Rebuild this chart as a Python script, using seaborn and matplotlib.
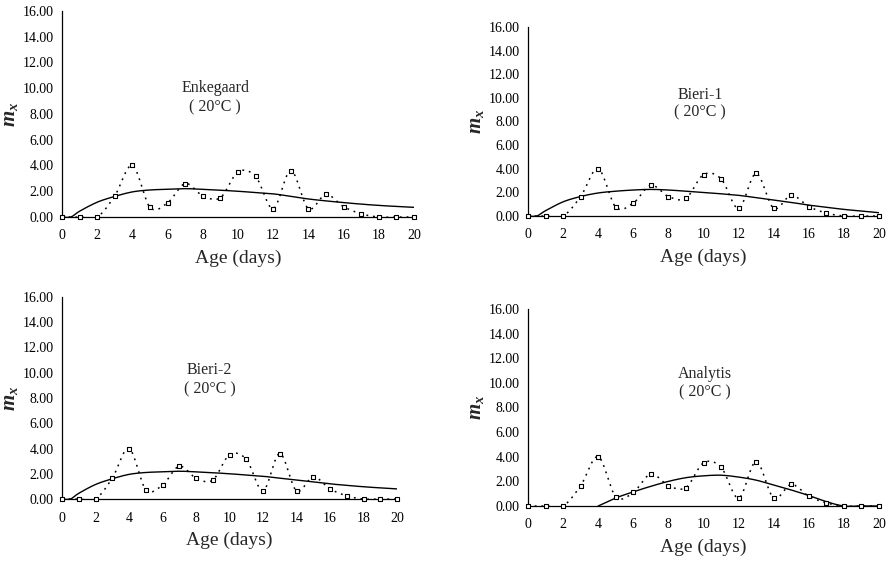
import numpy as np
import pandas as pd
import matplotlib
matplotlib.use("Agg")
import matplotlib.pyplot as plt
import seaborn as sns

sns.set_theme(style="white")
plt.rcParams['font.family'] = ['Liberation Serif', 'DejaVu Serif']
plt.rcParams['mathtext.fontset'] = 'custom'
plt.rcParams['mathtext.it'] = 'Liberation Serif:italic:bold'
plt.rcParams['mathtext.rm'] = 'Liberation Serif:bold'

# ---- data ----
ages = list(range(0, 21))
observed = [0, 0, 0, 1.65, 4.0, 0.75, 1.1, 2.6, 1.65, 1.5, 3.5, 3.15,
            0.65, 3.6, 0.65, 1.75, 0.8, 0.25, 0, 0, 0]

fit_ages_a = [0, 0.5, 1, 2, 3, 4, 5, 6, 7, 8, 9, 10, 11, 12, 13, 14, 15, 16, 17, 18, 19, 20]
enkegaard_fit = [0, 0, 0.45, 1.15, 1.6, 1.95, 2.1, 2.15, 2.2, 2.15, 2.08, 2.0, 1.9,
                 1.8, 1.6, 1.4, 1.25, 1.12, 1.0, 0.9, 0.82, 0.75]
bieri1_fit = [0, 0, 0.45, 1.2, 1.65, 1.95, 2.1, 2.2, 2.25, 2.2, 2.1, 2.0, 1.88,
              1.75, 1.55, 1.35, 1.15, 0.92, 0.74, 0.56, 0.42, 0.28]
bieri2_fit = [0, 0, 0.45, 1.15, 1.6, 1.95, 2.1, 2.15, 2.2, 2.15, 2.08, 2.0, 1.9,
              1.8, 1.65, 1.5, 1.35, 1.2, 1.08, 0.97, 0.88, 0.8]
fit_ages_b = [4, 5, 6, 7, 8, 9, 10, 11, 12, 13, 14, 15, 16, 17, 18, 19, 20]
analytis_fit = [0, 0.65, 1.15, 1.6, 2.0, 2.3, 2.45, 2.5, 2.35, 2.1, 1.7, 1.3,
                0.85, 0.35, 0, 0, 0]

panels = [
    ("Enkegaard", fit_ages_a, enkegaard_fit),
    ("Bieri-1", fit_ages_a, bieri1_fit),
    ("Bieri-2", fit_ages_a, bieri2_fit),
    ("Analytis", fit_ages_b, analytis_fit),
]
temp_label = "( 20°C )"
x_ticks = list(range(0, 21, 2))
y_ticks = [0, 2, 4, 6, 8, 10, 12, 14, 16]


def smooth(xs, ys, n=20):
    """Excel-style smoothed line (Bezier) through the given points."""
    xs = np.asarray(xs, float)
    ys = np.asarray(ys, float)
    px, py = [], []
    m = len(xs)
    for i in range(m - 1):
        x0, y0 = (xs[i - 1], ys[i - 1]) if i > 0 else (xs[i], ys[i])
        x1, y1 = xs[i], ys[i]
        x2, y2 = xs[i + 1], ys[i + 1]
        x3, y3 = (xs[i + 2], ys[i + 2]) if i + 2 < m else (xs[i + 1], ys[i + 1])
        c1x, c1y = x1 + (x2 - x0) / 6, y1 + (y2 - y0) / 6
        c2x, c2y = x2 - (x3 - x1) / 6, y2 - (y3 - y1) / 6
        t = np.linspace(0, 1, n, endpoint=(i == m - 2))
        bx = (1 - t) ** 3 * x1 + 3 * (1 - t) ** 2 * t * c1x + 3 * (1 - t) * t ** 2 * c2x + t ** 3 * x2
        by = (1 - t) ** 3 * y1 + 3 * (1 - t) ** 2 * t * c1y + 3 * (1 - t) * t ** 2 * c2y + t ** 3 * y2
        px.extend(bx)
        py.extend(by)
    return np.array(px), np.array(py)


fig = plt.figure(figsize=(8.89, 5.62), dpi=100)
rects = [
    (62 / 889, 1 - 217 / 562, (414 - 62) / 889, (217 - 11) / 562),
    (528 / 889, 1 - 216 / 562, (879 - 528) / 889, (216 - 27) / 562),
    (62 / 889, 1 - 499 / 562, (397 - 62) / 889, (499 - 297) / 562),
    (528 / 889, 1 - 506 / 562, (879 - 528) / 889, (506 - 309) / 562),
]
label_pos = [(8.7, 10.0, 8.5), (9.8, 10.25, 8.75), (8.8, 10.2, 8.7), (10.1, 10.7, 9.2)]

for ax_i, ((name, fx, fy), rect, lp) in enumerate(zip(panels, rects, label_pos)):
    ax = fig.add_axes(rect)
    sx, sy = smooth(ages, observed)
    sns.lineplot(x=sx, y=sy, ax=ax, color="black", lw=1.1, sort=False,
                 linestyle=(0, (1.2, 3.2)), estimator=None)
    cx, cy = smooth(fx, fy)
    sns.lineplot(x=cx, y=cy, ax=ax, color="black", lw=1.0, sort=False, estimator=None)
    sns.scatterplot(x=ages, y=observed, ax=ax, marker="s", s=12,
                    facecolor="white", edgecolor="black", linewidth=0.8,
                    zorder=5, clip_on=False)
    ax.set_xlim(0, 20)
    ax.set_ylim(0, 16)
    ax.set_xticks(x_ticks)
    ax.set_yticks(y_ticks)
    ax.set_yticklabels([f"{v:.2f}" for v in y_ticks])
    ax.tick_params(axis="x", direction="in", length=4, width=0.8, labelsize=10,
                   pad=9, colors="black")
    ax.tick_params(axis="y", direction="out", length=4, width=0.8, labelsize=10,
                   pad=2, colors="black")
    ax.spines["top"].set_visible(False)
    ax.spines["right"].set_visible(False)
    for s in ("left", "bottom"):
        ax.spines[s].set_color("black")
        ax.spines[s].set_linewidth(0.9)
    ax.set_xlabel("Age (days)", fontsize=14, labelpad=5)
    ax.set_ylabel(r"$m_x$", fontsize=15, labelpad=2)
    ax.text(lp[0], lp[1], name, ha="center", va="center", fontsize=11.5)
    ax.text(lp[0], lp[2], temp_label, ha="center", va="center", fontsize=11.5)

fig.savefig("out.png", dpi=100)
